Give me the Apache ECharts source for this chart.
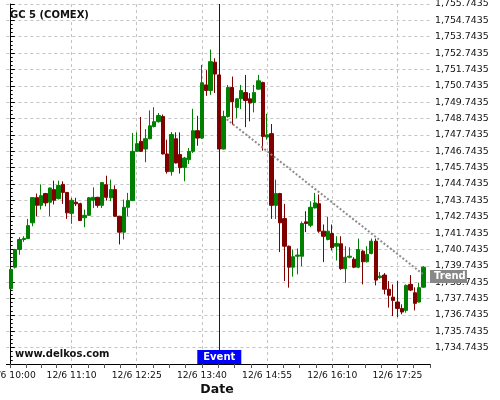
<!DOCTYPE html>
<html><head><meta charset="utf-8">
<script src="https://cdn.jsdelivr.net/npm/echarts@6/dist/echarts.min.js"></script>
<style>html,body{margin:0;padding:0;background:#fff}#c{width:500px;height:400px}</style>
</head><body><div id="c"></div>
<script>
// ---- data ----
const base = 1733.7435;      // bottom of the price axis
const yTop = 1755.7435;      // top of the price axis
const openP = [1738.34,1739.66,1740.74,1741.35,1741.41,1742.37,1743.91,1743.44,1744.16,1743.63,
  1744.40,1743.85,1744.72,1744.23,1742.95,1743.63,1743.54,1742.68,1742.83,1743.75,
  1743.93,1743.44,1744.70,1743.90,1744.40,1742.77,1741.80,1743.32,1743.73,1746.74,
  1747.35,1746.88,1747.51,1748.26,1748.55,1748.87,1746.58,1745.50,1747.51,1746.54,
  1745.76,1746.23,1746.74,1748.00,1747.55,1750.80,1750.46,1752.19,1751.41,1746.88,
  1748.87,1750.64,1749.42,1749.95,1750.33,1749.95,1749.73,1750.54,1750.94,1747.61,
  1747.82,1743.44,1744.16,1742.63,1740.94,1739.66,1740.33,1740.33,1742.43,1742.22,
  1743.28,1743.54,1741.86,1741.35,1741.72,1740.94,1741.09,1739.57,1740.27,1740.15,
  1739.66,1740.64,1739.99,1740.50,1741.25,1739.02,1739.18,1738.31,1737.83,1737.53,
  1737.14,1737.02,1738.61,1738.10,1737.53,1738.44];
const closeP = [1739.52,1740.74,1741.35,1741.42,1742.20,1743.91,1743.44,1744.03,1743.59,1744.50,
  1743.75,1744.65,1744.23,1742.98,1743.75,1743.53,1742.51,1742.83,1743.90,1743.93,
  1743.44,1744.83,1743.93,1744.40,1742.77,1741.80,1743.32,1743.73,1746.74,1747.21,
  1746.74,1747.51,1748.30,1748.55,1748.93,1746.58,1745.50,1747.77,1746.03,1745.74,
  1746.33,1746.74,1748.00,1747.55,1750.93,1750.46,1752.22,1751.46,1746.88,1748.87,
  1750.64,1749.77,1749.95,1750.46,1749.85,1749.69,1750.33,1751.05,1747.65,1747.75,
  1743.44,1744.16,1742.37,1740.94,1739.66,1740.30,1740.40,1742.33,1742.33,1743.32,
  1743.59,1741.86,1741.55,1741.86,1740.85,1741.11,1739.57,1740.27,1740.33,1739.66,
  1740.74,1739.99,1740.44,1741.25,1738.87,1739.12,1738.31,1737.94,1737.63,1737.14,
  1736.92,1738.55,1738.26,1737.45,1738.41,1739.66];
const lowP = [1738.30,1739.58,1740.42,1741.21,1741.38,1742.16,1742.77,1743.18,1743.38,1742.77,
  1743.49,1743.80,1743.53,1742.61,1742.31,1743.40,1742.48,1742.10,1742.80,1743.28,
  1743.30,1743.28,1743.73,1743.69,1742.75,1741.05,1741.35,1742.77,1743.70,1746.70,
  1746.70,1746.07,1747.48,1748.20,1748.50,1746.55,1745.38,1745.25,1746.00,1745.38,
  1744.91,1745.97,1746.64,1747.08,1747.50,1750.13,1750.19,1750.30,1746.85,1746.85,
  1748.80,1748.37,1748.77,1749.32,1748.22,1748.57,1749.12,1750.50,1746.78,1747.45,
  1742.61,1742.61,1740.58,1738.81,1738.41,1739.08,1739.22,1739.72,1741.80,1742.10,
  1743.25,1741.76,1739.97,1741.30,1740.68,1740.07,1739.50,1738.71,1740.20,1739.60,
  1739.60,1738.61,1739.95,1740.45,1738.55,1738.95,1738.00,1737.19,1736.67,1736.61,
  1736.78,1736.88,1738.20,1737.02,1737.50,1738.40];
const highP = [1739.55,1740.78,1741.49,1741.55,1742.61,1743.93,1744.16,1744.72,1744.20,1744.52,
  1744.95,1744.95,1744.91,1744.25,1743.90,1743.90,1743.60,1743.18,1743.95,1744.54,
  1743.96,1744.85,1745.25,1745.01,1744.66,1742.80,1743.79,1744.20,1747.86,1747.90,
  1748.84,1748.10,1749.24,1749.44,1749.08,1748.99,1747.45,1747.92,1747.90,1747.90,
  1746.40,1746.94,1749.34,1748.91,1752.02,1751.70,1752.96,1752.43,1751.45,1749.22,
  1750.80,1751.31,1750.00,1750.80,1751.41,1750.30,1750.80,1751.41,1751.00,1749.04,
  1748.41,1745.01,1744.20,1743.53,1740.98,1740.74,1740.80,1742.45,1743.08,1743.69,
  1744.20,1744.10,1742.27,1742.74,1742.27,1741.55,1741.55,1740.94,1740.88,1740.27,
  1741.41,1740.70,1740.94,1741.41,1741.41,1739.36,1739.30,1738.81,1738.61,1738.81,
  1737.39,1738.60,1739.18,1738.43,1738.71,1739.72];
const tickIdx = [0, 14, 29, 44, 59, 74, 89];
const tickLabels = ['12/6 10:00','12/6 11:10','12/6 12:25','12/6 13:40','12/6 14:55','12/6 16:10','12/6 17:25'];
const eventIdx = 48;
const trendStart = [49.7, 1748.70];
const trendEnd = [94.8, 1739.25];
const xMin = -1, xMax = 96.5;

// ---- helpers ----
function fmtPrice(v) {
  const s = v.toFixed(4).split('.');
  return s[0].replace(/\B(?=(\d{3})+(?!\d))/g, ',') + '.' + s[1];
}
const candles = openP.map((o, i) => [i, o - base, closeP[i] - base, lowP[i] - base, highP[i] - base]);
const minorTicks = [];
tickIdx.forEach((a, k) => {
  const b = k + 1 < tickIdx.length ? tickIdx[k + 1] : a + 15;
  for (let j = 1; j < 4; j++) { const v = a + (b - a) * j / 4; if (v <= xMax) minorTicks.push(v); }
});
const FONT = 'DejaVu Sans';
const gridLine = { show: true, lineStyle: { color: '#c4c4c4', type: [3, 3], width: 1 } };

const chart = echarts.init(document.getElementById('c'), null, { renderer: 'canvas' });
chart.setOption({
  animation: false,
  backgroundColor: '#fff',
  grid: { left: 6.4, right: 70, top: 4, bottom: 36, containLabel: false, outerBoundsMode: 'none' },
  xAxis: [{
    type: 'value', min: xMin, max: xMax, position: 'bottom',
    axisLine: { show: true, lineStyle: { color: '#000', width: 1 } },
    axisTick: { show: true, length: 4, inside: false, customValues: tickIdx, lineStyle: { color: '#555' } },
    axisLabel: { show: true, customValues: tickIdx, margin: 7, fontSize: 9.2, fontFamily: FONT, color: '#111', hideOverlap: false,
      formatter: v => { const k = tickIdx.indexOf(Math.round(v)); return k >= 0 ? tickLabels[k] : ''; } },
    splitLine: gridLine
  }, {
    type: 'value', min: xMin, max: xMax, position: 'bottom',
    axisLine: { show: false },
    axisTick: { show: true, length: 4, customValues: minorTicks, lineStyle: { color: '#555' } },
    axisLabel: { show: false },
    splitLine: { show: false }
  }],
  yAxis: {
    type: 'value', position: 'right', min: 0, max: yTop - base, interval: 1,
    axisLine: { show: true, lineStyle: { color: '#000', width: 1 } },
    axisTick: { show: true, length: 4, lineStyle: { color: '#000' } },
    minorTick: { show: true, splitNumber: 4, length: 2, lineStyle: { color: '#000' } },
    axisLabel: { margin: 5, fontSize: 9.4, fontFamily: FONT, color: '#111', showMinLabel: false, showMaxLabel: true,
      formatter: v => fmtPrice(v + base) },
    splitLine: gridLine
  },
  series: [{
    type: 'candlestick',
    xAxisIndex: 0, yAxisIndex: 0,
    data: candles,
    barWidth: 3.8,
    itemStyle: { color: '#008000', color0: '#800000', borderColor: '#008000', borderColor0: '#800000', borderWidth: 1 },
    markLine: {
      silent: true, symbol: ['none', 'none'], label: { show: false },
      data: [
        { xAxis: eventIdx, lineStyle: { color: '#0000ff', width: 1, type: 'solid' } },
        [ { coord: [trendStart[0], trendStart[1] - base], lineStyle: { color: '#8c8c8c', width: 2, type: [2, 2] } },
          { coord: [trendEnd[0], trendEnd[1] - base] } ]
      ]
    },
    markPoint: {
      silent: true,
      data: [{
        coord: [eventIdx, 0], symbol: 'rect', symbolSize: [44, 14], symbolOffset: [0, -7],
        itemStyle: { color: '#0000ff' },
        label: { show: true, position: 'inside', formatter: 'Event', color: '#fff', fontWeight: 'bold', fontSize: 10, fontFamily: FONT }
      }]
    }
  }]
});

const pEnd = chart.convertToPixel({ xAxisIndex: 0, yAxisIndex: 0 }, [trendEnd[0], trendEnd[1] - base]);
const pRight = chart.convertToPixel({ xAxisIndex: 0, yAxisIndex: 0 }, [xMax, 0]);
chart.setOption({
  graphic: [
    { type: 'text', x: 10, y: 15.5, z: 100, style: { text: 'GC 5 (COMEX)', font: 'bold 10px "DejaVu Sans"', fill: '#111', verticalAlign: 'middle' } },
    { type: 'text', x: 15, y: 354, z: 100, style: { text: 'www.delkos.com', font: 'bold 10px "DejaVu Sans"', fill: '#111', verticalAlign: 'middle' } },
    { type: 'text', x: 217, y: 389.5, z: 100, style: { text: 'Date', font: 'bold 12.5px "DejaVu Sans"', fill: '#111', align: 'center', verticalAlign: 'middle' } },
    { type: 'rect', z: 100, shape: { x: pRight[0], y: pEnd[1] - 4, width: 37, height: 13 }, style: { fill: '#888888' } },
    { type: 'text', z: 101, x: pRight[0] + 4, y: pEnd[1] + 2.5, style: { text: 'Trend', font: 'bold 10px "DejaVu Sans"', fill: '#fff', verticalAlign: 'middle' } }
  ]
});
</script></body></html>
